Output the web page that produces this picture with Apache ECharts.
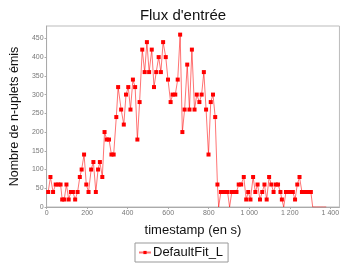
<!DOCTYPE html>
<html>
<head>
<meta charset="utf-8">
<script src="https://cdn.jsdelivr.net/npm/echarts@6/dist/echarts.min.js"></script>
<style>
  html, body { margin: 0; padding: 0; background: #fff; }
  #chart { width: 342px; height: 266px; }
</style>
</head>
<body>
<div id="chart"></div>
<script>
(function () {
    // temps (s) et nombre de n-uplets émis
    const timestamps = [
        8, 19, 32, 45, 58, 69, 77, 87, 98, 109, 120, 130, 141, 153, 164, 173, 185, 196, 207, 220,
        231, 243, 254, 263, 275, 286, 297, 308, 320, 331, 344, 353, 368, 381, 392, 403, 414, 426, 437, 448,
        459, 472, 484, 495, 506, 519, 530, 541, 553, 564, 575, 588, 599, 612, 622, 635, 647, 659, 670, 681,
        694, 705, 717, 730, 741, 754, 765, 776, 787, 799, 810, 821, 832, 843, 849, 860, 871, 882, 893, 903,
        914, 926, 937, 948, 960, 973, 985, 995, 1006, 1019, 1030, 1041, 1053, 1064, 1075, 1086, 1098, 1109, 1120, 1131,
        1142, 1154, 1161, 1170, 1181, 1192, 1204, 1215, 1226, 1237, 1248, 1260, 1271, 1282, 1293, 1304, 1313, 1330, 1350, 1365,
        1380
    ];
    const emitted = [
        40, 80, 40, 60, 60, 60, 20, 20, 60, 20, 40, 40, 20, 40, 80, 100, 140, 60, 40, 100,
        120, 40, 100, 120, 80, 200, 180, 180, 140, 140, 240, 320, 260, 220, 300, 320, 260, 340, 320, 180,
        280, 420, 360, 440, 360, 420, 320, 360, 400, 360, 440, 400, 340, 280, 300, 300, 340, 460, 200, 260,
        380, 260, 420, 260, 300, 280, 300, 360, 260, 140, 280, 300, 240, 60, 0, 40, 40, 40, 40, 0,
        40, 40, 40, 60, 60, 80, 20, 40, 20, 80, 40, 60, 20, 40, 60, 20, 80, 60, 40, 60,
        60, 40, 20, 0, 40, 40, 40, 40, 20, 60, 80, 40, 40, 40, 40, 40, 0, 0, 0, 0,
        0
    ];
    const seriesName = 'DefaultFit_L';
    const xTicks = [0, 200, 400, 600, 800, 1000, 1200, 1400];

    const frNumber = function (v) {
        return String(v).replace(/\B(?=(\d{3})+(?!\d))/g, ' ');
    };

    const option = {
        backgroundColor: '#fff',
        animation: false,
        title: {
            text: "Flux d'entrée",
            left: 178,
            top: 3,
            textAlign: 'center',
            textStyle: {
                fontFamily: 'Liberation Sans',
                fontSize: 15,
                fontWeight: 'normal',
                color: '#111'
            }
        },
        legend: {
            data: [seriesName],
            left: 135,
            top: 243,
            width: 85,
            padding: [3, 5, 3, 3],
            itemGap: 2,
            itemWidth: 12,
            itemHeight: 4,
            borderColor: '#999',
            borderWidth: 1,
            textStyle: {
                fontFamily: 'Liberation Sans',
                fontSize: 13,
                color: '#111',
                padding: [0, 0, 0, -3]
            }
        },
        grid: {
            show: true,
            borderColor: '#bbb',
            borderWidth: 1,
            left: 44,
            top: 26,
            right: -2,
            bottom: 59
        },
        xAxis: {
            type: 'value',
            min: 0,
            max: 1445,
            interval: 200,
            name: 'timestamp (en s)',
            nameLocation: 'middle',
            nameGap: 17,
            nameTextStyle: {
                fontFamily: 'Liberation Sans',
                fontSize: 13,
                color: '#111'
            },
            axisLine: { lineStyle: { color: '#aaa' } },
            axisTick: { length: 2, lineStyle: { color: '#aaa' } },
            axisLabel: {
                fontFamily: 'Liberation Sans',
                fontSize: 7,
                color: '#777',
                margin: 3,
                showMaxLabel: false,
                formatter: function (v) {
                    return xTicks.indexOf(v) >= 0 ? frNumber(v) : '';
                }
            },
            splitLine: { show: false }
        },
        yAxis: {
            type: 'value',
            min: 0,
            max: 483,
            interval: 50,
            name: 'Nombre de n-uplets émis',
            nameLocation: 'middle',
            nameGap: 19,
            nameTextStyle: {
                fontFamily: 'Liberation Sans',
                fontSize: 12.5,
                color: '#111'
            },
            axisLine: { show: true, lineStyle: { color: '#aaa' } },
            axisTick: { show: true, length: 2, lineStyle: { color: '#aaa' } },
            axisLabel: {
                fontFamily: 'Liberation Sans',
                fontSize: 7,
                color: '#777',
                margin: 3,
                showMaxLabel: false,
                formatter: function (v) {
                    return v % 50 === 0 ? String(v) : '';
                }
            },
            splitLine: { show: false }
        },
        series: [
            {
                name: seriesName,
                type: 'line',
                symbol: 'rect',
                symbolSize: 4,
                itemStyle: { color: '#ff0000' },
                lineStyle: { color: 'rgba(255,0,0,0.55)', width: 1 },
                data: timestamps.map(function (t, i) {
                    const item = { value: [t, emitted[i]] };
                    if (emitted[i] === 0) {
                        item.symbol = 'none';
                    }
                    return item;
                })
            }
        ]
    };

    const myChart = echarts.init(document.getElementById('chart'));
    myChart.setOption(option);
}());
</script>
</body>
</html>
